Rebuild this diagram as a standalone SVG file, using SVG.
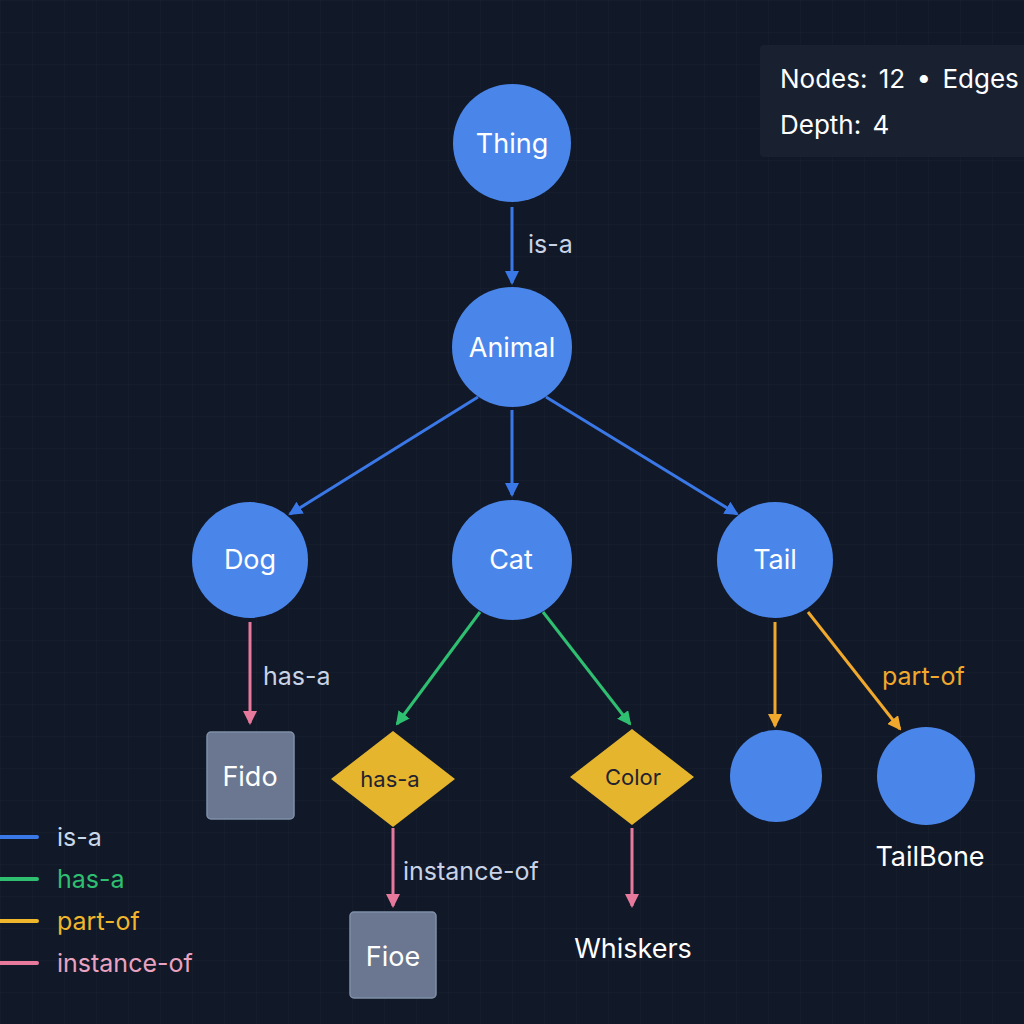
<svg xmlns="http://www.w3.org/2000/svg" width="1024" height="1024" viewBox="0 0 1024 1024">
<defs>
<pattern id="grid" width="32" height="32" patternUnits="userSpaceOnUse"><path d="M32 0H0V32" fill="none" stroke="#1a2233" stroke-width="1"/></pattern>
<marker id="mg" markerWidth="14" markerHeight="14" refX="12" refY="7" orient="auto" markerUnits="userSpaceOnUse" viewBox="0 0 14 14"><path d="M0 0L14 7L0 14z" fill="#2fbf71"/></marker>
<marker id="mo" markerWidth="14" markerHeight="14" refX="12" refY="7" orient="auto" markerUnits="userSpaceOnUse" viewBox="0 0 14 14"><path d="M0 0L14 7L0 14z" fill="#f0a92c"/></marker>
<marker id="mp" markerWidth="14" markerHeight="14" refX="12" refY="7" orient="auto" markerUnits="userSpaceOnUse" viewBox="0 0 14 14"><path d="M0 0L14 7L0 14z" fill="#e77a9c"/></marker>
<marker id="mbb" markerWidth="14" markerHeight="14" refX="12" refY="7" orient="auto" markerUnits="userSpaceOnUse" viewBox="0 0 14 14"><path d="M0 0L14 7L0 14z" fill="#3b78e7"/></marker>
</defs>
<style>
text{font-family:Inter,"Liberation Sans",sans-serif}
.c{fill:#4a86ea}
.nl{fill:#fff;font-size:27px;text-anchor:middle}
.box{fill:#6b7790;stroke:#8090a8;stroke-width:1.5}
.dia{fill:#e6b52e}
.dl{fill:#1f2330;font-size:22px;text-anchor:middle}
.b{stroke:#3b78e7;stroke-width:3;fill:none}
.g{stroke:#2fbf71;stroke-width:3;fill:none}
.o{stroke:#f0a92c;stroke-width:3;fill:none}
.p{stroke:#e77a9c;stroke-width:3;fill:none}
.el{font-size:25px}
</style>
<rect width="1024" height="1024" fill="#111827"/>
<rect width="1024" height="1024" fill="url(#grid)"/>
<g id="panel">
<rect x="760" y="45" width="290" height="112" rx="4" fill="#192131"/>
<text x="780" y="88" fill="#fff" font-size="26" word-spacing="4">Nodes: 12 • Edges</text>
<text x="780" y="134" fill="#fff" font-size="26" word-spacing="4">Depth: 4</text>
</g>
<g id="connectors">
<line class="b" x1="512" y1="207" x2="512" y2="283" marker-end="url(#mbb)"/>
<line class="b" x1="478" y1="397" x2="290" y2="514" marker-end="url(#mbb)"/>
<line class="b" x1="512" y1="410" x2="512" y2="495" marker-end="url(#mbb)"/>
<line class="b" x1="546" y1="397" x2="737" y2="514" marker-end="url(#mbb)"/>
<line class="p" x1="250" y1="622" x2="250" y2="723" marker-end="url(#mp)"/>
<line class="g" x1="480" y1="612" x2="397" y2="724" marker-end="url(#mg)"/>
<line class="g" x1="543" y1="612" x2="630" y2="724" marker-end="url(#mg)"/>
<line class="o" x1="775" y1="622" x2="775" y2="726" marker-end="url(#mo)"/>
<line class="o" x1="808" y1="612" x2="900" y2="729" marker-end="url(#mo)"/>
<line class="p" x1="393" y1="828" x2="393" y2="906" marker-end="url(#mp)"/>
<line class="p" x1="632" y1="828" x2="632" y2="906" marker-end="url(#mp)"/>
<text class="el" x="528" y="253" fill="#c9d3e6">is-a</text>
<text class="el" x="263" y="685" fill="#c9d3e6">has-a</text>
<text class="el" x="882" y="685" fill="#f0a92c">part-of</text>
<text class="el" x="403" y="880" fill="#c9d3e6">instance-of</text>
</g>
<g id="thing"><circle class="c" cx="512" cy="143" r="59"/><text class="nl" x="512" y="153">Thing</text></g>
<g id="animal"><circle class="c" cx="512" cy="347" r="60"/><text class="nl" x="512" y="357">Animal</text></g>
<g id="dog"><circle class="c" cx="250" cy="560" r="58"/><text class="nl" x="250" y="569">Dog</text></g>
<g id="cat"><circle class="c" cx="512" cy="560" r="60"/><text class="nl" x="511" y="569">Cat</text></g>
<g id="tail"><circle class="c" cx="775" cy="560" r="58"/><text class="nl" x="775" y="569">Tail</text></g>
<g id="fido"><rect class="box" x="207" y="732" width="87" height="87" rx="4"/><text class="nl" x="250" y="786">Fido</text></g>
<g id="hasa"><polygon class="dia" points="393,731 455,779 393,827 331,779"/><text class="dl" x="390" y="787">has-a</text></g>
<g id="color"><polygon class="dia" points="632,729 694,777 632,825 570,777"/><text class="dl" x="633" y="785">Color</text></g>
<g id="tailnode"><circle class="c" cx="776" cy="776" r="46"/></g>
<g id="tailbone"><circle class="c" cx="926" cy="776" r="49"/><text class="nl" x="930" y="866" font-size="26">TailBone</text></g>
<g id="fioe"><rect class="box" x="350" y="912" width="86" height="86" rx="4"/><text class="nl" x="393" y="966">Fioe</text></g>
<g id="whiskers"><text class="nl" x="633" y="958" font-size="26">Whiskers</text></g>
<g id="legend">
<line x1="0" y1="837" x2="37" y2="837" stroke="#3b78e7" stroke-width="4" stroke-linecap="round"/>
<line x1="0" y1="879" x2="37" y2="879" stroke="#2fbf71" stroke-width="4" stroke-linecap="round"/>
<line x1="0" y1="921" x2="37" y2="921" stroke="#f0b62c" stroke-width="4" stroke-linecap="round"/>
<line x1="0" y1="963" x2="37" y2="963" stroke="#e77a9c" stroke-width="4" stroke-linecap="round"/>
<text x="57" y="846" font-size="25" fill="#c9d8ea">is-a</text>
<text x="57" y="888" font-size="25" fill="#2fbf71">has-a</text>
<text x="57" y="930" font-size="25" fill="#f0b62c">part-of</text>
<text x="57" y="972" font-size="25" fill="#e9a3c0">instance-of</text>
</g>
</svg>
